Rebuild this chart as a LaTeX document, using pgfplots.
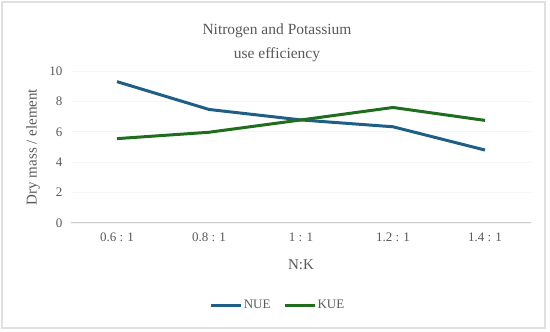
\documentclass[border=0pt]{standalone}
\usepackage{fontspec}
\setmainfont{Liberation Serif}
\usepackage{pgfplots}
\pgfplotsset{compat=1.18}
\definecolor{nue}{HTML}{1F5F86}
\definecolor{kue}{HTML}{1E6E1E}
\definecolor{txt}{HTML}{595959}
\begin{document}
\begin{tikzpicture}[x=1pt,y=1pt]
\path[use as bounding box] (0,0) rectangle (550,332);
\draw[draw=black!12, line width=2pt] (2,4) rectangle (545,330);
\begin{axis}[
  at={(71pt,109pt)}, anchor=south west,
  scale only axis, width=460pt, height=152pt,
  xmin=-0.5, xmax=4.5, ymin=0, ymax=10,
  xtick={0,1,2,3,4},
  xticklabels={0.6 : 1, 0.8 : 1, 1 : 1, 1.2 : 1, 1.4 : 1},
  ytick={0,2,4,6,8,10},
  axis line style={draw=none},
  major tick length=0pt,
  ymajorgrids, grid style={draw=black!4, line width=0.6pt},
  tick label style={text=txt, font=\fontsize{13}{15}\selectfont},
  /pgf/number format/assume math mode=true,
  yticklabel style={xshift=-5pt},
  xticklabel style={yshift=-6pt},
  clip=false,
  legend style={draw=none, fill=none, at={(0.449,-0.54)}, anchor=center, legend columns=2,
    font=\fontsize{13}{15}\selectfont, text=txt, inner sep=0pt,
    nodes={inner sep=1pt},
    /tikz/every even column/.append style={column sep=12pt}},
  legend cell align=left,
  legend image code/.code={\draw[#1, line width=3pt] (0pt,0pt) -- (30pt,0pt);},
]
\draw[black!20, line width=1pt] (axis cs:-0.5,0) -- (axis cs:4.5,0);
\addplot[nue, line width=3pt] coordinates {(0,9.3) (1,7.47) (2,6.78) (3,6.33) (4,4.8)};
\addlegendentry{NUE}
\addplot[kue, line width=3pt] coordinates {(0,5.55) (1,5.97) (2,6.78) (3,7.6) (4,6.75)};
\addlegendentry{KUE}
\end{axis}
\node[text=txt, font=\fontsize{15.5}{24}\selectfont, align=center] at (277,289) {Nitrogen and Potassium\\use efficiency};
\node[text=txt, font=\fontsize{15}{16}\selectfont] at (301,67) {N:K};
\node[text=txt, font=\fontsize{15}{16}\selectfont, rotate=90] at (33,185) {Dry mass / element};
\end{tikzpicture}
\end{document}
